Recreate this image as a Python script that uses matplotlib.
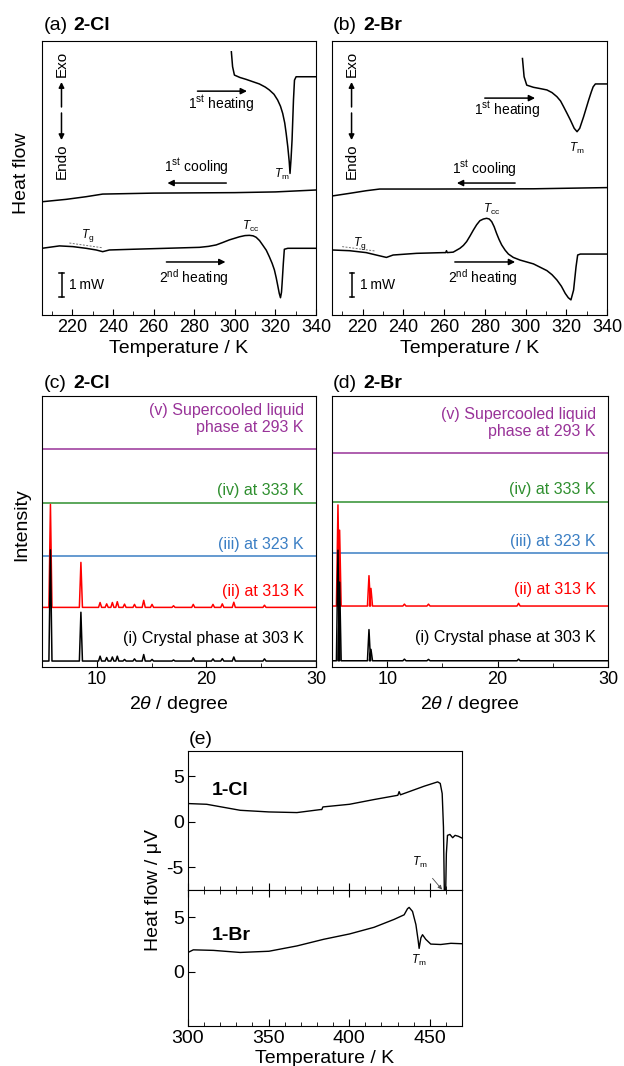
import matplotlib
matplotlib.use("Agg")
import matplotlib.pyplot as plt
from matplotlib.ticker import MultipleLocator

plt.rcParams['font.family'] = ['Liberation Sans', 'DejaVu Sans']
plt.rcParams['mathtext.fontset'] = 'custom'
plt.rcParams['mathtext.rm'] = 'Liberation Sans'
plt.rcParams['mathtext.it'] = 'Liberation Sans:italic'
plt.rcParams['mathtext.bf'] = 'Liberation Sans:bold'

# ---- DSC of 2-Cl (a), heat flow in mW (offset traces) ----
cl_heat1_T = [298.3, 298.9, 299.8, 302.5, 305.6, 309, 312.1, 315, 317.0, 319.3, 321.1, 322.5, 323.6, 324.6, 325.3,
              326.1, 326.8, 327.2, 327.7, 328.2, 328.9, 329.4, 330.2, 340]
cl_heat1_q = [10.97, 10.35, 10.0, 9.9, 9.82, 9.72, 9.63, 9.5, 9.38, 9.2, 8.96, 8.7, 8.4, 8.0, 7.57,
              7.01, 6.4, 5.9, 6.5, 7.29, 8.96, 9.79, 9.93, 9.93]
cl_cool1_T = [205, 216.9, 226.7, 234.9, 260, 300, 320, 340]
cl_cool1_q = [4.72, 4.82, 4.93, 5.04, 5.08, 5.1, 5.13, 5.21]
cl_heat2_T = [205, 213.6, 220.2, 226.7, 231.7, 234.9, 238.2, 249.7, 266.2, 282.6, 287, 290.8, 294, 297.3, 300,
              302.3, 305, 307.2, 309, 310.5, 312.2, 313.7, 315.5, 317.0, 318.4, 319.5, 320.4, 321.1, 321.9,
              322.5, 323.0, 323.3, 323.9, 324.4, 326.1, 340]
cl_heat2_q = [2.78, 2.88, 2.85, 2.78, 2.71, 2.64, 2.71, 2.74, 2.78, 2.82, 2.86, 2.92, 3.02, 3.13, 3.2,
              3.26, 3.31, 3.32, 3.3, 3.24, 3.1, 2.92, 2.7, 2.43, 2.15, 1.88, 1.55, 1.25, 0.9,
              0.72, 0.95, 1.32, 2.15, 2.74, 2.78, 2.78]

# ---- DSC of 2-Br (b) ----
br_heat1_T = [298.5, 299.3, 300.6, 303.9, 307, 310.5, 313, 315.4, 317.2, 318.7, 320.4, 322.0, 323.9, 325.3, 326.6,
              328.5, 331.0, 332.3, 333.2, 334.3, 340]
br_heat1_q = [10.69, 9.93, 9.58, 9.49, 9.44, 9.38, 9.27, 9.1, 8.92, 8.68, 8.4, 8.13, 7.78, 7.64, 7.78,
              8.26, 8.96, 9.3, 9.51, 9.63, 9.63]
br_cool1_T = [205, 213.6, 221.8, 228.4, 254.7, 303.9, 340]
br_cool1_q = [4.96, 5.07, 5.18, 5.25, 5.25, 5.26, 5.31]
br_heat2_T = [205, 213.6, 221.8, 226.7, 231.7, 235.0, 246.5, 259.6, 260.8, 261.2, 261.6, 264.5, 267.8, 269.5,
              271.1, 272.8, 274.4, 276, 277.6, 279.3, 280.9, 282.2, 283.4, 284.6, 285.8, 287, 288.3, 290,
              291.6, 294, 297.3, 303.9, 310.5, 313, 315.4, 317.6, 319.5, 321, 322.3, 323.6, 324.8, 325.6,
              326.9, 340]
br_heat2_q = [2.71, 2.68, 2.6, 2.5, 2.4, 2.5, 2.57, 2.6, 2.6, 2.68, 2.6, 2.62, 2.78, 2.9,
              3.06, 3.3, 3.54, 3.76, 3.93, 4.0, 4.03, 4.0, 3.89, 3.68, 3.4, 3.15, 2.92, 2.7,
              2.54, 2.4, 2.29, 2.13, 1.85, 1.68, 1.46, 1.2, 0.9, 0.72, 0.63, 1.04, 2.01, 2.5,
              2.54, 2.54]

# ---- XRD peaks (2theta, height above baseline) ----
cl_main_pos = [5.77, 8.55]
cl_i_main_h = [4.1, 1.8]
cl_ii_main_h = [3.8, 1.66]
cl_small_pos = [10.3, 10.9, 11.42, 11.87, 12.53, 13.44, 14.28, 15.04, 17.0, 18.8, 20.6, 21.45, 22.5, 25.3]
cl_i_small_h = [0.18, 0.13, 0.15, 0.18, 0.06, 0.08, 0.24, 0.06, 0.04, 0.12, 0.08, 0.09, 0.15, 0.08]
cl_ii_small_h = [0.18, 0.13, 0.18, 0.21, 0.12, 0.11, 0.26, 0.11, 0.06, 0.11, 0.11, 0.13, 0.19, 0.08]
cl_base = [0.22, 2.2, 4.1, 6.05, 8.04]

br_main_pos = [5.54, 5.69, 8.35, 8.53]
br_i_main_h = [4.08, 2.9, 1.15, 0.42]
br_ii_main_h = [3.73, 2.8, 1.12, 0.65]
br_small_pos = [11.56, 13.74, 21.9]
br_i_small_h = [0.06, 0.05, 0.06]
br_ii_small_h = [0.07, 0.07, 0.1]
br_base = [0.23, 2.25, 4.2, 6.09, 7.9]

xrd_colors = ['black', '#ff0000', '#3b7fc4', '#2f8f2f', '#993399']
xrd_labels = ['(i) Crystal phase at 303 K', '(ii) at 313 K', '(iii) at 323 K', '(iv) at 333 K',
              '(v) Supercooled liquid\nphase at 293 K']

# ---- DTA of 1-Cl / 1-Br (e), heat flow in uV ----
e_cl_T = [300, 311.6, 332.4, 350.2, 367.6, 382.2, 383.0, 383.7, 400.2, 415.4, 430.2, 431.0, 431.8, 446.6,
          454.9, 456.5, 457.7, 458.5, 459.1, 459.8, 460.3, 461.0, 462.5, 464.2, 465.7, 467.7, 470]
e_cl_q = [1.99, 1.91, 1.25, 1.07, 1.0, 1.33, 1.33, 1.62, 1.91, 2.43, 2.9, 3.3, 2.95, 3.9,
          4.37, 4.2, 3.09, -0.6, -8.5, -8.5, -3.5, -1.5, -1.4, -1.76, -1.5, -1.6, -1.8]
e_br_T = [300, 303.3, 315.8, 332.4, 350.2, 367.6, 384.2, 400.2, 415.4, 427.9, 434.1, 436.2, 437.2, 439.3,
          441.4, 442.8, 443.4, 444.5, 445.5, 447.5, 450.6, 456.8, 463.1, 470]
e_br_q = [1.76, 2.0, 1.95, 1.76, 1.87, 2.36, 2.97, 3.46, 4.07, 4.8, 5.22, 5.78, 5.9, 5.53,
          4.32, 2.86, 2.13, 3.1, 3.39, 2.97, 2.53, 2.49, 2.6, 2.56]

W, H = 624, 1066
fig = plt.figure(figsize=(W / 100, H / 100), dpi=100)


def box(x0, y0, x1, y1):
    return [x0 / W, 1 - y1 / H, (x1 - x0) / W, (y1 - y0) / H]


def arrow(ax, x0, y0, x1, y1, ms=9):
    ax.annotate('', xy=(x1, y1), xytext=(x0, y0),
                arrowprops=dict(arrowstyle='-|>', color='k', lw=1.1, mutation_scale=ms,
                                shrinkA=0, shrinkB=0))


def dsc_panel(ax, heat1, cool1, heat2, ann):
    ax.plot(*heat1, color='k', lw=1.1)
    ax.plot(*cool1, color='k', lw=1.1)
    ax.plot(*heat2, color='k', lw=1.1)
    ax.set_xlim(205, 340)
    ax.set_ylim(0, 11.42)
    ax.set_yticks([])
    ax.xaxis.set_major_locator(MultipleLocator(20))
    ax.xaxis.set_minor_locator(MultipleLocator(10))
    ax.tick_params(axis='x', which='both', direction='in', labelsize=13, pad=3)
    ax.tick_params(axis='x', which='major', length=4)
    ax.tick_params(axis='x', which='minor', length=3)
    ax.set_xticks([220, 240, 260, 280, 300, 320, 340])
    ax.set_xlabel('Temperature / K', fontsize=14, labelpad=3)
    # exo / endo
    ax.text(214.6, 10.45, 'Exo', rotation=90, ha='center', va='center', fontsize=11)
    ax.text(214.6, 6.4, 'Endo', rotation=90, ha='center', va='center', fontsize=11)
    arrow(ax, 214.6, 8.67, 214.6, 9.71, ms=8)
    arrow(ax, 214.6, 8.42, 214.6, 7.29, ms=8)
    # scale bar
    ax.plot([214.8, 214.8], [0.75, 1.75], color='k', lw=1.1)
    ax.plot([213.6, 216.0], [0.75, 0.75], color='k', lw=1.1)
    ax.plot([213.6, 216.0], [1.75, 1.75], color='k', lw=1.1)
    ax.text(218.5, 1.25, '1\u2009mW', fontsize=10, va='center', ha='left')
    # process labels
    a = ann
    arrow(ax, a['h1'][0], a['h1'][2], a['h1'][1], a['h1'][2])
    ax.text(a['h1t'][0], a['h1t'][1], r'1$^{\rm st}$ heating', fontsize=10, ha='center', va='center')
    arrow(ax, a['c1'][0], a['c1'][2], a['c1'][1], a['c1'][2])
    ax.text(a['c1t'][0], a['c1t'][1], r'1$^{\rm st}$ cooling', fontsize=10, ha='center', va='center')
    arrow(ax, a['h2'][0], a['h2'][2], a['h2'][1], a['h2'][2])
    ax.text(a['h2t'][0], a['h2t'][1], r'2$^{\rm nd}$ heating', fontsize=10, ha='center', va='center')
    ax.plot(a['tgl'][0], a['tgl'][1], color='0.45', lw=0.7, ls=(0, (2, 1.5)))
    ax.text(a['tg'][0], a['tg'][1], r'$T_{\rm g}$', fontsize=8.5, ha='center', va='center')
    ax.text(a['tcc'][0], a['tcc'][1], r'$T_{\rm cc}$', fontsize=8.5, ha='center', va='center')
    ax.text(a['tm'][0], a['tm'][1], r'$T_{\rm m}$', fontsize=8.5, ha='center', va='center')


ax_a = fig.add_axes(box(42, 41, 316, 315))
dsc_panel(ax_a, (cl_heat1_T, cl_heat1_q), (cl_cool1_T, cl_cool1_q), (cl_heat2_T, cl_heat2_q),
          dict(h1=(281.6, 306, 9.33), h1t=(293.4, 8.8), c1=(295.8, 266.8, 5.5), c1t=(281, 6.17),
               h2=(266.3, 295.4, 2.21), h2t=(280, 1.55), tgl=([218.5, 235], [3.0, 2.8]),
               tg=(227.5, 3.3), tcc=(308, 3.7), tm=(323.3, 5.85)))
ax_b = fig.add_axes(box(332, 41, 607, 315))
dsc_panel(ax_b, (br_heat1_T, br_heat1_q), (br_cool1_T, br_cool1_q), (br_heat2_T, br_heat2_q),
          dict(h1=(280, 304.7, 9.04), h1t=(291, 8.54), c1=(294.9, 266.3, 5.5), c1t=(280, 6.1),
               h2=(265.3, 294.9, 2.21), h2t=(279, 1.55), tgl=([210, 226], [2.85, 2.67]),
               tg=(218.5, 3.0), tcc=(283.5, 4.4), tm=(325.4, 6.95)))

fig.text(44 / W, 1 - 25 / H, '(a)', fontsize=14, va='center')
fig.text(73 / W, 1 - 25 / H, '2-Cl', fontsize=14, va='center', weight='bold')
fig.text(333 / W, 1 - 25 / H, '(b)', fontsize=14, va='center')
fig.text(363 / W, 1 - 25 / H, '2-Br', fontsize=14, va='center', weight='bold')
fig.text(22 / W, 1 - 173 / H, 'Heat flow', fontsize=14, rotation=90, ha='center', va='center')


def pattern(base, pos, hgt, w):
    x, y = [5.0], [base]
    for p, h in zip(pos, hgt):
        x += [p - w, p, p + w]
        y += [base, base + h, base]
    x.append(30.0)
    y.append(base)
    return x, y


def merge(main, small):
    pos = list(main[0]) + list(small[0])
    hgt = list(main[1]) + list(small[1])
    order = sorted(range(len(pos)), key=lambda k: pos[k])
    return [pos[k] for k in order], [hgt[k] for k in order]


def xrd_panel(ax, base, i_peaks, ii_peaks, lbl_x):
    for k in (4, 3, 2):
        ax.plot([5, 30], [base[k], base[k]], color=xrd_colors[k], lw=1.1)
    px, ph = ii_peaks
    x, y = pattern(base[1], px, ph, 0.14)
    ax.plot(x, y, color=xrd_colors[1], lw=1.1)
    px, ph = i_peaks
    x, y = pattern(base[0], px, ph, 0.14)
    ax.plot(x, y, color=xrd_colors[0], lw=1.1)
    offs = [0.85, 0.6, 0.42, 0.45, 1.1]
    for k in range(5):
        ax.text(lbl_x, base[k] + offs[k], xrd_labels[k], color=xrd_colors[k], fontsize=11.5,
                ha='right', va='center', linespacing=1.15)
    ax.set_xlim(5, 30)
    ax.set_ylim(0, 10)
    ax.set_yticks([])
    ax.xaxis.set_major_locator(MultipleLocator(10))
    ax.xaxis.set_minor_locator(MultipleLocator(5))
    ax.tick_params(axis='x', which='both', direction='in', labelsize=13, pad=3)
    ax.tick_params(axis='x', which='major', length=4)
    ax.tick_params(axis='x', which='minor', length=3)
    ax.set_xlabel(r'2$\theta$ / degree', fontsize=14, labelpad=4)


ax_c = fig.add_axes(box(42, 396, 316, 667))
xrd_panel(ax_c, cl_base,
          merge((cl_main_pos, cl_i_main_h), (cl_small_pos, cl_i_small_h)),
          merge((cl_main_pos, cl_ii_main_h), (cl_small_pos, cl_ii_small_h)), 28.9)
ax_d = fig.add_axes(box(332, 396, 608, 667))
xrd_panel(ax_d, br_base,
          merge((br_main_pos, br_i_main_h), (br_small_pos, br_i_small_h)),
          merge((br_main_pos, br_ii_main_h), (br_small_pos, br_ii_small_h)), 28.9)

fig.text(44 / W, 1 - 383 / H, '(c)', fontsize=14, va='center')
fig.text(73 / W, 1 - 383 / H, '2-Cl', fontsize=14, va='center', weight='bold')
fig.text(333 / W, 1 - 383 / H, '(d)', fontsize=14, va='center')
fig.text(363 / W, 1 - 383 / H, '2-Br', fontsize=14, va='center', weight='bold')
fig.text(22 / W, 1 - 525 / H, 'Intensity', fontsize=14, rotation=90, ha='center', va='center')

# ---- (e) ----
ax_e1 = fig.add_axes(box(188, 751, 462, 890))
ax_e2 = fig.add_axes(box(188, 890, 462, 1026))
ax_e1.plot(e_cl_T, e_cl_q, color='k', lw=1.0)
ax_e2.plot(e_br_T, e_br_q, color='k', lw=1.0)
ax_e1.set_ylim(-7.5, 7.76)
ax_e2.set_ylim(-2.4, 7.5)
for ax in (ax_e1, ax_e2):
    ax.set_xlim(300, 470)
    ax.xaxis.set_major_locator(MultipleLocator(50))
    ax.xaxis.set_minor_locator(MultipleLocator(10))
    ax.set_yticks([-5, 0, 5])
    ax.tick_params(axis='both', which='both', direction='in', labelsize=14, pad=3)
    ax.tick_params(which='major', length=5)
    ax.tick_params(which='minor', length=3)
    ax.tick_params(axis='y', which='minor', left=False)
ax_e1.set_yticklabels(['-5', '0', '5'])
ax_e2.set_yticks([0, 5])
ax_e1.tick_params(axis='x', labelbottom=False)
ax_e2.tick_params(axis='x', top=True, which='both')
ax_e2.set_xlabel('Temperature / K', fontsize=14, labelpad=2)
ax_e1.text(314.6, 3.46, '1-Cl', fontsize=14, weight='bold', va='center')
ax_e2.text(314.6, 3.34, '1-Br', fontsize=14, weight='bold', va='center')
ax_e1.annotate(r'$T_{\rm m}$', xy=(457.6, -7.45), xytext=(443.5, -4.5), fontsize=8.5, ha='center', va='center',
               arrowprops=dict(arrowstyle='-|>', lw=0.6, color='0.3', mutation_scale=6, shrinkA=5, shrinkB=0))
ax_e2.text(443.4, 1.0, r'$T_{\rm m}$', fontsize=8.5, ha='center', va='center')
fig.text(189 / W, 1 - 740 / H, '(e)', fontsize=14, va='center')
fig.text(153 / W, 1 - 890 / H, 'Heat flow / \u03bcV', fontsize=14, rotation=90, ha='center', va='center')

fig.savefig('out.png', dpi=100)
